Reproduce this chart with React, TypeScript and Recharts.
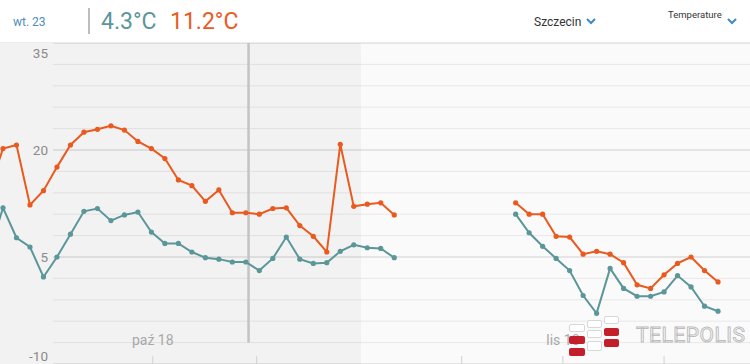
import React from 'react';
import { LineChart, Line, XAxis, YAxis, CartesianGrid, ReferenceArea, ReferenceLine } from 'recharts';

// one point per step; the first one sits just past the left edge
const firstDay = -1;

const maxTemps: (number | null)[] = [
  14.5, 20.2, 20.7, 12.3, 14.3, 17.6, 20.7, 22.5, 22.9, 23.4, 22.8, 21.2, 20.2, 18.8, 15.8, 15.0,
  12.8, 14.4, 11.2, 11.2, 11.0, 11.8, 11.9, 9.4, 7.9, 5.7, 20.8, 12.1, 12.4, 12.6, 10.9,
  null, null, null, null, null, null, null, null,
  12.6, 11.0, 11.0, 7.9, 7.8, 5.4, 5.8, 5.4, 4.2, 1.1, 0.6, 2.5, 4.1, 5.0, 3.1, 1.5,
];

const minTemps: (number | null)[] = [
  5.7, 11.9, 7.7, 6.4, 2.2, 5.0, 8.2, 11.4, 11.8, 10.1, 10.9, 11.3, 8.5, 6.9, 6.9, 5.7,
  4.9, 4.7, 4.3, 4.3, 3.1, 4.8, 7.8, 4.7, 4.1, 4.2, 5.8, 6.7, 6.3, 6.2, 4.9,
  null, null, null, null, null, null, null, null,
  11.0, 8.4, 6.5, 4.8, 3.1, -0.4, -2.9, 3.4, 0.6, -0.5, -0.5, 0.1, 2.4, 0.8, -1.9, -2.6,
];

const xDomain: [number, number] = [-0.222, 55.37];
const xTicks = [11.1, 18.8, 34.0, 41.5, 49.0];
const xTickLabels = ['paź 18', '', '', 'lis 18', ''];

const yTicks = [-10, -7, -4, -1, 2, 5, 8, 11, 14, 17, 20, 23, 26, 29, 32, 35];
const yLabels = [-10, 5, 20, 35];

const cursorDay = 18.2;
const pastEnd = 26.54;

const MIN_COLOR = '#5b9699';
const MAX_COLOR = '#ea5a1e';

const renderGridLine = (props: any) => {
  const major = yLabels.includes(yTicks[props.index]);
  return (
    <line
      key={props.key}
      x1={props.x1}
      y1={props.y1}
      x2={props.x2}
      y2={props.y2}
      stroke={major ? '#d0d0d0' : '#e8e8e8'}
      strokeWidth={1}
    />
  );
};

const renderYTick = (props: any) => {
  const { y, payload } = props;
  if (!yLabels.includes(payload.value)) return <g />;
  // edge labels are pushed inside the plot
  const shift = payload.value === 35 ? 10 : payload.value === -10 ? -8 : 0;
  return (
    <text x={48} y={y + shift} dy="0.35em" textAnchor="end" fontSize={13.5} fill="#8a8a8a" fontFamily="Roboto, sans-serif">
      {payload.value}
    </text>
  );
};

const renderXTick = (props: any) => {
  const { x, y, payload } = props;
  const label = xTickLabels[xTicks.indexOf(payload.value)];
  return (
    <g>
      <line x1={x} x2={x} y1={y - 8} y2={y + 2} stroke="#d2d2d2" strokeWidth={1} />
      {label ? (
        <text x={x} y={y - 23.5} dy="0.35em" textAnchor="middle" fontSize={14} fill="#a8a8a8" fontFamily="Roboto, sans-serif">
          {label}
        </text>
      ) : null}
    </g>
  );
};

const Chevron = ({ left, top }: { left: number; top: number }) => (
  <svg style={{ position: 'absolute', left, top }} width={10} height={7}>
    <polyline points="1,1 5,5 9,1" fill="none" stroke="#3d8bc4" strokeWidth={2} />
  </svg>
);

// watermark blocks: [left, top, width, height, red?]
const logoBlocks: [number, number, number, number, boolean][] = [
  [569, 324, 16, 8, false],
  [569, 336, 16, 8, true],
  [569, 348, 16, 8, true],
  [587, 320, 15, 8, false],
  [587, 330, 15, 8, false],
  [587, 341, 15, 10, false],
  [604, 316, 15, 8, false],
  [604, 328, 15, 8, true],
  [604, 339, 15, 8, true],
];

const App = () => {
  const data = maxTemps.map((max, k) => ({ day: firstDay + k, max, min: minTemps[k] }));

  return (
    <div
      style={{
        position: 'absolute',
        left: 0,
        top: 0,
        width: 750,
        height: 364,
        overflow: 'hidden',
        background: '#fff',
        fontFamily: 'Roboto, sans-serif',
      }}
    >
      {/* header */}
      <div style={{ position: 'absolute', left: 13, top: 13, fontSize: 12, lineHeight: '18px', color: '#4f8cbf' }}>wt. 23</div>
      <div style={{ position: 'absolute', left: 88, top: 8, width: 1.5, height: 26, background: '#bdbdbd' }} />
      <div style={{ position: 'absolute', left: 101, top: 7, fontSize: 23, lineHeight: '30px', color: MIN_COLOR }}>4.3°C</div>
      <div style={{ position: 'absolute', left: 170, top: 7, fontSize: 23, lineHeight: '30px', color: MAX_COLOR }}>11.2°C</div>
      <div style={{ position: 'absolute', left: 534, top: 13, fontSize: 12, lineHeight: '18px', color: '#333' }}>Szczecin</div>
      <Chevron left={586} top={18} />
      <div style={{ position: 'absolute', left: 668, top: 8, fontSize: 9.5, lineHeight: '14px', color: '#333' }}>Temperature</div>
      <Chevron left={727} top={18} />

      <div style={{ position: 'absolute', left: 0, top: 42, width: 750, height: 322, background: '#fafafa', borderTop: '1px solid #ececec', boxSizing: 'border-box' }}>
        <LineChart width={750} height={322} data={data} margin={{ top: 0, right: 0, bottom: 0, left: 0 }}>
          <ReferenceArea x1={xDomain[0]} x2={pastEnd} y1={-10} y2={35} fill="#000" fillOpacity={0.03} stroke="none" />
          <CartesianGrid vertical={false} x={53} width={697} horizontal={renderGridLine} />
          <XAxis
            type="number"
            dataKey="day"
            domain={xDomain}
            allowDataOverflow
            ticks={xTicks}
            interval={0}
            height={1}
            axisLine={false}
            tickLine={false}
            tickSize={0}
            tickMargin={0}
            tick={renderXTick}
          />
          <YAxis
            type="number"
            domain={[-10, 35]}
            ticks={yTicks}
            interval={0}
            mirror
            width={1}
            axisLine={false}
            tickLine={false}
            tick={renderYTick}
          />
          <ReferenceLine
            segment={[{ x: cursorDay, y: 35 }, { x: cursorDay, y: -7 }]}
            stroke="#c3c3c3"
            strokeWidth={2.5}
          />
          <Line
            type="linear"
            dataKey="min"
            stroke={MIN_COLOR}
            strokeWidth={2}
            dot={{ r: 2.6, fill: MIN_COLOR, stroke: MIN_COLOR, strokeWidth: 0 }}
            activeDot={false}
            isAnimationActive={false}
          />
          <Line
            type="linear"
            dataKey="max"
            stroke={MAX_COLOR}
            strokeWidth={2}
            dot={{ r: 2.6, fill: MAX_COLOR, stroke: MAX_COLOR, strokeWidth: 0 }}
            activeDot={false}
            isAnimationActive={false}
          />
        </LineChart>
      </div>

      {/* watermark */}
      {logoBlocks.map(([left, top, width, height, red], i) => (
        <div
          key={i}
          style={{
            position: 'absolute',
            left,
            top,
            width,
            height,
            borderRadius: 2,
            boxSizing: 'border-box',
            background: red ? '#c21f2b' : '#fff',
            border: red ? 'none' : '1px solid #d8d8d8',
          }}
        />
      ))}
      <div
        style={{
          position: 'absolute',
          left: 636,
          top: 322,
          fontSize: 21,
          lineHeight: '26px',
          letterSpacing: 0.5,
          color: '#fff',
          WebkitTextStroke: '1px #bdbdbd',
        }}
      >
        TELEPOLIS
      </div>
    </div>
  );
};

export default App;
